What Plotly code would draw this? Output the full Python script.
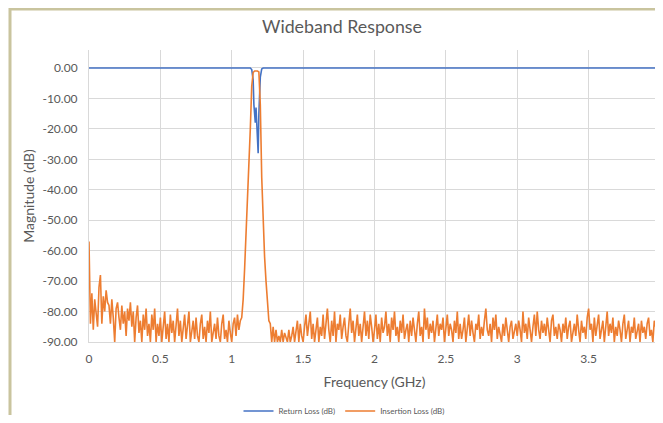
import plotly.graph_objects as go

# ---------------- data ----------------
il_start = 0.0
il_step = 0.01
insertion_loss = [
    -57, -84, -74, -86, -76, -80, -85, -72, -68, -84,
    -75, -80, -73, -77, -78, -84, -76, -82, -90, -79,
    -77, -82, -86, -78, -84, -80, -88, -79, -83, -77,
    -85, -80, -90, -82, -78, -87, -83, -90, -81, -86,
    -79, -88, -84, -90, -81, -86, -79, -90, -84, -88,
    -82, -90, -85, -80, -89, -84, -90, -81, -87, -83,
    -90, -85, -79, -88, -83, -90, -86, -81, -89, -84,
    -80, -90, -86, -83, -89, -82, -88, -90, -84, -81,
    -89, -85, -90, -83, -87, -80, -90, -86, -84, -89,
    -82, -88, -90, -84, -81, -89, -86, -90, -83, -87,
    -90, -84, -82, -88, -81, -86, -83, -82, -76, -66,
    -55, -45, -33, -20, -6, -1.5, -1.0, -0.9, -1.0, -1.3,
    -12, -36, -52, -62, -70, -78, -83, -84, -90, -85,
    -90, -86, -90, -88, -90, -86, -90, -87, -89, -90,
    -86, -90, -88, -85, -90, -87, -83, -90, -84, -88,
    -90, -85, -81, -88, -83, -80, -89, -84, -90, -86,
    -82, -90, -85, -88, -81, -89, -84, -79, -86, -90,
    -83, -88, -80, -90, -84, -86, -81, -89, -85, -82,
    -88, -90, -84, -79, -87, -83, -90, -85, -81, -88,
    -84, -90, -86, -80, -88, -83, -89, -81, -85, -90,
    -86, -81, -89, -84, -90, -82, -87, -85, -80, -88,
    -84, -90, -82, -86, -80, -88, -85, -90, -83, -87,
    -81, -89, -86, -84, -90, -83, -88, -82, -86, -90,
    -84, -80, -88, -85, -90, -79, -86, -82, -89, -84,
    -87, -83, -90, -85, -81, -88, -84, -86, -82, -90,
    -85, -81, -88, -84, -86, -90, -83, -87, -80, -89,
    -84, -89, -86, -82, -90, -85, -81, -88, -83, -87,
    -90, -84, -86, -81, -89, -85, -88, -83, -79, -86,
    -88, -84, -90, -82, -86, -81, -89, -85, -87, -90,
    -84, -88, -82, -86, -90, -85, -83, -89, -86, -84,
    -88, -83, -86, -90, -80, -87, -84, -89, -82, -86,
    -90, -85, -81, -88, -80, -86, -89, -83, -87, -84,
    -88, -82, -86, -90, -83, -81, -88, -85, -89, -84,
    -86, -90, -84, -87, -82, -89, -85, -83, -90, -86,
    -84, -88, -81, -86, -90, -83, -87, -85, -89, -82,
    -79, -86, -84, -90, -82, -88, -85, -81, -89, -86,
    -83, -90, -86, -80, -88, -84, -87, -82, -90, -85,
    -88, -83, -86, -90, -84, -81, -89, -86, -83, -90,
    -85, -87, -82, -89, -86, -84, -90, -83, -87, -85,
    -89, -84, -82, -88, -86, -90, -83, -85, -87, -84,
    -82,
]
il_freq = [round(il_start + i * il_step, 2) for i in range(len(insertion_loss))]

rl_freq = [0.0, 0.5, 1.0, 1.13, 1.14, 1.15, 1.155, 1.16, 1.165, 1.17, 1.175,
           1.18, 1.185, 1.19, 1.195, 1.20, 1.21, 1.22, 1.5, 2.0, 2.5, 3.0, 3.5, 4.0]
return_loss = [0.0, 0.0, 0.0, 0.0, -0.5, -4, -12, -14, -18, -13, -20,
               -22, -28, -15, -8, -3, -0.3, 0.0, 0.0, 0.0, 0.0, 0.0, 0.0, 0.0]

y_tickvals = [0, -10, -20, -30, -40, -50, -60, -70, -80, -90]
y_ticktext = ["0.00", "-10.00", "-20.00", "-30.00", "-40.00", "-50.00",
              "-60.00", "-70.00", "-80.00", "-90.00"]
x_tickvals = [0, 0.5, 1, 1.5, 2, 2.5, 3, 3.5, 4]
x_ticktext = ["0", "0.5", "1", "1.5", "2", "2.5", "3", "3.5", "4"]

# ---------------- figure ----------------
OFF = 8  # page body margin
W, H = 663 - OFF, 423 - 2 * OFF
L, R, T = 89 - OFF, 3, 50 - OFF
B = H - (342 - OFF)
pw = W - L - R
ph = H - T - B

def px_x(page_px):
    return (page_px - OFF - L) / pw

def px_y(page_py):
    return (H - B - (page_py - OFF)) / ph

FONT = "Lato, 'Open Sans', sans-serif"
GRAY = "#595959"

fig = go.Figure()
fig.add_trace(go.Scatter(x=rl_freq, y=return_loss, mode="lines",
                         name="Return Loss (dB)",
                         line=dict(color="#4472C4", width=1.6)))
fig.add_trace(go.Scatter(x=il_freq, y=insertion_loss, mode="lines",
                         name="Insertion Loss (dB)",
                         line=dict(color="#ED7D31", width=1.6)))

fig.update_layout(
    width=W, height=H,
    margin=dict(l=L, r=R, t=T, b=B, autoexpand=False),
    paper_bgcolor="white", plot_bgcolor="white",
    font=dict(family=FONT, color=GRAY, size=11),
    title=dict(text="Wideband Response", x=(342 - OFF) / W, xanchor="center",
               y=1 - (27 - OFF) / H, yanchor="middle", yref="container",
               font=dict(size=17.8, color=GRAY, family=FONT)),
    showlegend=True,
    legend=dict(orientation="h", x=px_x(344), xanchor="center",
                y=px_y(411), yanchor="middle",
                font=dict(size=8, color=GRAY, family=FONT),
                bgcolor="rgba(0,0,0,0)"),
    xaxis=dict(range=[0, 4], tickvals=x_tickvals, ticktext=x_ticktext,
               showgrid=True, gridcolor="#d9d9d9", gridwidth=1,
               showline=True, linecolor="#d9d9d9", linewidth=1,
               zeroline=False, ticks="", ticklabelstandoff=6,
               ticklabeloverflow="allow",
               tickfont=dict(size=12, color=GRAY),
               title=dict(text="Frequency (GHz)", standoff=11,
                          font=dict(size=14, color=GRAY))),
    yaxis=dict(range=[-90, 5.9], tickvals=y_tickvals, ticktext=y_ticktext,
               showgrid=True, gridcolor="#d9d9d9", gridwidth=1,
               showline=True, linecolor="#d9d9d9", linewidth=1,
               zeroline=False, ticks="", ticklabelstandoff=8,
               tickfont=dict(size=12, color=GRAY),
               title=dict(text="Magnitude (dB)", standoff=4,
                          font=dict(size=14, color=GRAY))),
)

# Chart frame (beige border at left and top)
frame_color = "#c9c49e"
fig.add_shape(type="line", xref="paper", yref="paper",
              x0=px_x(10), x1=px_x(10), y0=px_y(8), y1=px_y(430),
              line=dict(color=frame_color, width=3))
fig.add_shape(type="line", xref="paper", yref="paper",
              x0=px_x(9), x1=px_x(670), y0=px_y(9), y1=px_y(9),
              line=dict(color=frame_color, width=3))

fig.write_html("out.html")
